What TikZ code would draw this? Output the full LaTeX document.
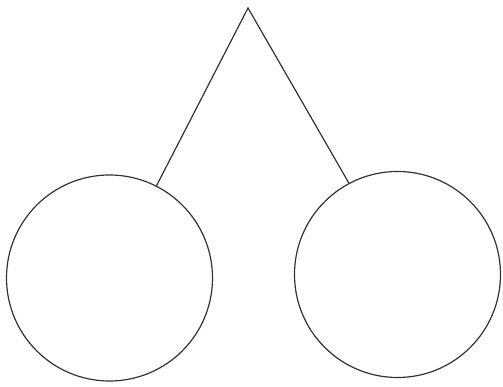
\documentclass[tikz,border=0pt]{standalone}
\begin{document}
\begin{tikzpicture}[x=1pt,y=-1pt,
  ball/.style={circle,draw=black!80,line width=1.2pt,minimum size=206pt,inner sep=0pt},
  link/.style={draw=black!80,line width=1.2pt}]
\useasboundingbox (0,0) rectangle (503,387);
\coordinate (apex) at (248,8);
\node[ball] (left) at (109.5,278) {};
\node[ball] (right) at (397.5,274.5) {};
\draw[link] (left.63) -- (apex) -- (right.118);
\end{tikzpicture}
\end{document}
